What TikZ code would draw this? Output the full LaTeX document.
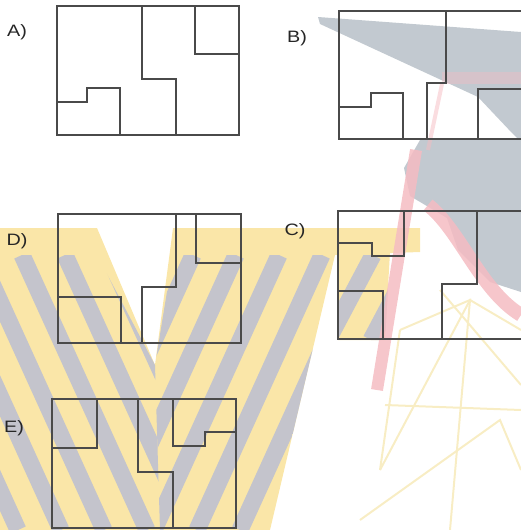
\documentclass[tikz,border=0pt]{standalone}
\usepackage{fontspec}
\setmainfont{Liberation Sans}
\definecolor{wmY}{HTML}{FAE6A8}
\definecolor{wmG}{HTML}{C4C4CC}
\definecolor{wmP}{HTML}{F5BCC2}
\definecolor{wmD}{HTML}{C2C9D0}
\definecolor{wmL}{HTML}{F8EDC4}
\definecolor{wallc}{HTML}{4A4A4A}
\begin{document}
\begin{tikzpicture}[x=1pt,y=-1pt,
  wall/.style={draw=wallc, line width=1.1pt, line join=miter},
  lbl/.style={font=\fontsize{16.5}{17}\selectfont, text=black!85, xscale=1.2, inner sep=0pt},
  stripe/.style={wmG, line width=17pt}]
\useasboundingbox (0,0) rectangle (521,530);
% ---------- watermark (background) ----------
\fill[wmD] (318,17) -- (521,32) -- (521,142) -- (512,133) -- (478,97) -- (320,24) -- cycle;
\fill[wmD] (420,140) -- (521,140) -- (521,292) -- (490,282) -- (458,250) -- (447,218) -- (410,196) -- (404,168) -- cycle;
% yellow V logo
\fill[wmY] (0,228) -- (97,228) -- (155,365) -- (173,228) -- (420,228) -- (420,252) -- (335,255) -- (270,530) -- (0,530) -- cycle;
\fill[wmY] (338,252) -- (390,252) -- (385,340) -- (338,340) -- cycle;
\begin{scope}
  \clip (0,255) -- (97,255) -- (155,365) -- (160,530) -- (0,530) -- cycle;
  \foreach \s in {-150,-107,...,200} \draw[stripe] (\s,255) -- (\s+125,530);
\end{scope}
\begin{scope}
  \clip (155,365) -- (173,255) -- (335,255) -- (270,530) -- (160,530) -- cycle;
  \foreach \s in {150,193,...,520} \draw[stripe] (\s,255) -- (\s-125,530);
\end{scope}
\begin{scope}
  \clip (338,255) -- (390,255) -- (385,340) -- (338,340) -- cycle;
  \foreach \s in {330,373,...,450} \draw[stripe] (\s,255) -- (\s-45,340);
\end{scope}
% pale yellow network lines
\begin{scope}[wmL, line width=2pt]
  \draw (385,405) -- (521,410);
  \draw (380,470) -- (470,300) -- (521,330);
  \draw (440,290) -- (521,385);
  \draw (400,330) -- (470,300) -- (450,530);
  \draw (360,520) -- (500,420) -- (521,470);
  \draw (400,330) -- (380,470);
\end{scope}
% pink lines
\draw[wmP, line width=12pt, opacity=0.85] (416,150) -- (377,390);
\draw[wmP, line width=4pt, opacity=0.5] (442,84) -- (428,150);
\fill[wmP, opacity=0.4] (442,72) -- (521,72) -- (521,84) -- (442,84) -- cycle;
\draw[wmP, line width=14pt, opacity=0.85] (428,205) .. controls (460,230) and (480,290) .. (521,315);
% ---------- A ----------
\node[lbl] (la) at (17,32) {A)};
\draw[wall] (57,6) rectangle (239,135);
\draw[wall] (142,6) -- (142,79) -- (176,79) -- (176,135);
\draw[wall] (195,6) -- (195,54) -- (239,54);
\draw[wall] (57,102) -- (87,102) -- (87,88) -- (120,88) -- (120,135);
% ---------- B ----------
\node[lbl] (lb) at (297,38) {B)};
\draw[wall] (530,11) -- (339,11) -- (339,139) -- (530,139);
\draw[wall] (446,11) -- (446,83) -- (427,83) -- (427,139);
\draw[wall] (339,107) -- (371,107) -- (371,93) -- (403,93) -- (403,139);
\draw[wall] (478,139) -- (478,89) -- (530,89);
% ---------- D ----------
\node[lbl] (ld) at (17,241) {D)};
\draw[wall] (58,214) rectangle (241,343);
\draw[wall] (176,214) -- (176,287) -- (142,287) -- (142,343);
\draw[wall] (196,214) -- (196,263) -- (241,263);
\draw[wall] (58,297) -- (121,297) -- (121,343);
% ---------- C ----------
\node[lbl] (lc) at (295,231) {C)};
\draw[wall] (530,211) -- (338,211) -- (338,339) -- (530,339);
\draw[wall] (404,211) -- (404,256) -- (372,256) -- (372,243) -- (338,243);
\draw[wall] (338,291) -- (383,291) -- (383,339);
\draw[wall] (477,211) -- (477,284) -- (442,284) -- (442,339);
% ---------- E ----------
\node[lbl] (le) at (14,428) {E)};
\draw[wall] (52,399) rectangle (236,528);
\draw[wall] (97,399) -- (97,448) -- (52,448);
\draw[wall] (138,399) -- (138,472) -- (173,472) -- (173,528);
\draw[wall] (173,399) -- (173,446) -- (205,446) -- (205,432) -- (236,432);
\end{tikzpicture}
\end{document}
